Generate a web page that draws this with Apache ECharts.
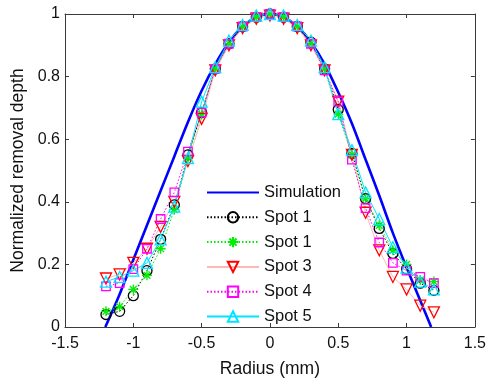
<!DOCTYPE html>
<html>
<head>
<meta charset="utf-8">
<script src="https://cdn.jsdelivr.net/npm/echarts@6/dist/echarts.min.js"></script>
<style>
html,body{margin:0;padding:0;background:#fff;}
#c{width:489px;height:383px;}
</style>
</head>
<body>
<div id="c"></div>
<script>
// Radius positions of measured points (mm)
var radius = [-1.2,-1.1,-1.0,-0.9,-0.8,-0.7,-0.6,-0.5,-0.4,-0.3,-0.2,-0.1,0,0.1,0.2,0.3,0.4,0.5,0.6,0.7,0.8,0.9,1.0,1.1,1.2];

// Simulation curve
var simRadius = [-1.205,-1.1,-1.0,-0.9,-0.8,-0.7,-0.6,-0.5,-0.4,-0.3,-0.2,-0.1,0,0.1,0.2,0.3,0.4,0.5,0.6,0.7,0.8,0.9,1.0,1.1,1.18];
var simulation = [0.0,0.105,0.215,0.325,0.435,0.545,0.655,0.755,0.84,0.91,0.96,0.99,1.0,0.99,0.96,0.91,0.84,0.75,0.65,0.535,0.42,0.30,0.19,0.085,0.0];

var spot1a = [0.04,0.05,0.10,0.18,0.28,0.39,0.55,0.685,0.825,0.905,0.96,0.99,1.0,0.99,0.96,0.91,0.825,0.695,0.555,0.41,0.315,0.235,0.185,0.14,0.117];
var spot1b = [0.05,0.065,0.12,0.165,0.25,0.375,0.54,0.68,0.825,0.905,0.96,0.99,1.0,0.99,0.96,0.905,0.825,0.68,0.55,0.41,0.325,0.245,0.20,0.15,0.145];
var spot3  = [0.155,0.168,0.205,0.25,0.32,0.40,0.53,0.665,0.82,0.90,0.955,0.985,0.995,0.985,0.955,0.90,0.82,0.72,0.55,0.365,0.245,0.16,0.12,0.068,0.047];
var spot4  = [0.13,0.14,0.185,0.25,0.345,0.43,0.56,0.685,0.825,0.905,0.96,0.99,1.0,0.99,0.96,0.905,0.82,0.72,0.535,0.38,0.27,0.205,0.18,0.16,0.14];
var spot5  = [0.145,0.16,0.18,0.205,0.28,0.385,0.54,0.72,0.83,0.915,0.965,0.995,1.0,0.995,0.965,0.915,0.83,0.68,0.565,0.43,0.345,0.255,0.19,0.145,0.12];

// legend labels (second "Spot 1" carries a zero-width space so both entries are kept)
var seriesNames = ['Simulation','Spot 1','Spot 1\u200b','Spot 3','Spot 4','Spot 5'];
var xTicks = ['-1.5','-1','-0.5','0','0.5','1','1.5'];
var yTicks = ['0','0.2','0.4','0.6','0.8','1'];

function pairs(xs, ys){ return xs.map(function(x,i){ return [x, ys[i]]; }); }

var FONT = 'Liberation Sans, Arial, sans-serif';
var AX = '#3a3a3a';
var asterisk = 'path://M5,0L5,10M0,5L10,5M1.6,1.6L8.4,8.4M1.6,8.4L8.4,1.6';

function spotSeries(name, ys, color, lineColor, lineType, symbol, size, rotate){
  return {
    name: name, type: 'line', data: pairs(radius, ys),
    symbol: symbol, symbolSize: size, symbolRotate: rotate || 0,
    showAllSymbol: true, clip: false,
    lineStyle: {color: lineColor, width: 1, type: lineType},
    itemStyle: {color: 'rgba(0,0,0,0)', borderColor: color, borderWidth: 1.3},
    emphasis: {disabled: true}
  };
}

var chart = echarts.init(document.getElementById('c'), null, {renderer:'canvas'});
chart.setOption({
  animation: false,
  backgroundColor: '#fff',
  grid: {left: 65, right: 12, top: 14, bottom: 50, containLabel: false},
  legend: {
    data: seriesNames.map(function(n){ return {name: n}; }),
    orient: 'vertical', left: 201, top: 179,
    itemWidth: 52, itemHeight: 13, itemGap: 7.8,
    textStyle: {fontFamily: FONT, fontSize: 16.5, lineHeight: 14, color: '#111'},
    selectedMode: false
  },
  xAxis: [{
    type: 'value', min: -1.5, max: 1.5, interval: 0.5,
    name: 'Radius (mm)', nameLocation: 'middle', nameGap: 33,
    nameTextStyle: {fontFamily: FONT, fontSize: 17.5, color: '#111'},
    axisLine: {show: true, onZero: false, lineStyle: {color: AX, width: 1}},
    axisTick: {show: true, inside: true, length: 4, lineStyle: {color: AX}},
    axisLabel: {fontFamily: FONT, fontSize: 16, color: '#111', margin: 9,
      formatter: function(v){ var i = Math.round((v + 1.5) / 0.5); return xTicks[i]; }},
    splitLine: {show: false}
  },{
    type: 'value', position: 'top', min: -1.5, max: 1.5, interval: 0.5,
    axisLine: {show: true, onZero: false, lineStyle: {color: AX, width: 1}},
    axisTick: {show: true, inside: true, length: 4, lineStyle: {color: AX}},
    axisLabel: {show: false}, splitLine: {show: false}
  }],
  yAxis: [{
    type: 'value', min: 0, max: 1, interval: 0.2,
    name: 'Normalized removal depth', nameLocation: 'middle', nameGap: 38,
    nameTextStyle: {fontFamily: FONT, fontSize: 17.5, color: '#111'},
    axisLine: {show: true, onZero: false, lineStyle: {color: AX, width: 1}},
    axisTick: {show: true, inside: true, length: 4, lineStyle: {color: AX}},
    axisLabel: {fontFamily: FONT, fontSize: 16, color: '#111', margin: 5,
      formatter: function(v){ var i = Math.round(v / 0.2); return yTicks[i]; }},
    splitLine: {show: false}
  },{
    type: 'value', position: 'right', min: 0, max: 1, interval: 0.2,
    axisLine: {show: true, onZero: false, lineStyle: {color: AX, width: 1}},
    axisTick: {show: true, inside: true, length: 4, lineStyle: {color: AX}},
    axisLabel: {show: false}, splitLine: {show: false}
  }],
  series: [
    {
      name: seriesNames[0], type: 'line', data: pairs(simRadius, simulation),
      smooth: 0.3, symbol: 'circle', symbolSize: 1, showSymbol: false, clip: false,
      lineStyle: {color: '#0000ff', width: 2.6},
      itemStyle: {color: 'rgba(0,0,0,0)', borderColor: 'rgba(0,0,0,0)', borderWidth: 0},
      emphasis: {disabled: true}
    },
    spotSeries(seriesNames[1], spot1a, '#000000', '#000000', [1.5,2], 'circle', 10),
    spotSeries(seriesNames[2], spot1b, '#00ee00', '#00ee00', [1.5,2], asterisk, 10),
    spotSeries(seriesNames[3], spot3, '#ff0000', '#ffb8b8', 'solid', 'triangle', 11, 180),
    spotSeries(seriesNames[4], spot4, '#ff00ff', '#ff00ff', [1.5,2], 'rect', 8.5),
    spotSeries(seriesNames[5], spot5, '#00e5ff', '#00e5ff', 'solid', 'triangle', 11)
  ]
});
</script>
</body>
</html>
